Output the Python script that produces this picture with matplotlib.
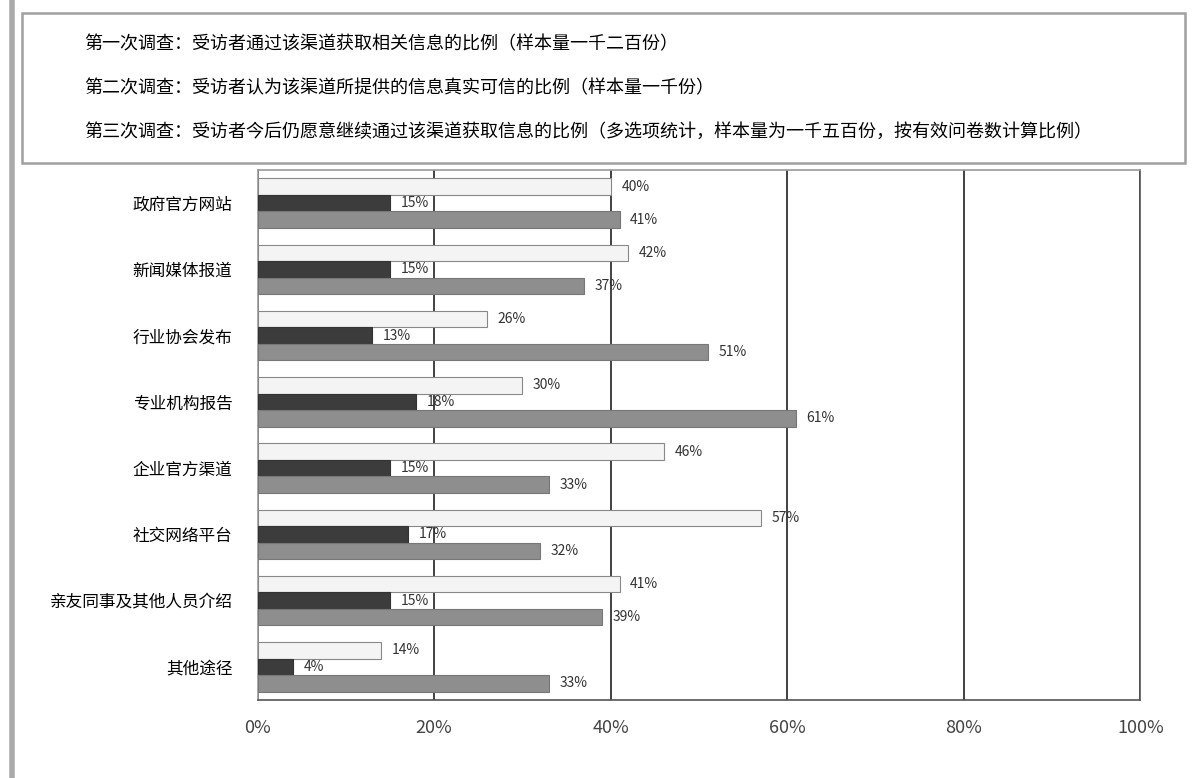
import numpy as np
import matplotlib
matplotlib.use('Agg')
import matplotlib.pyplot as plt
from matplotlib.lines import Line2D

plt.rcParams['font.family'] = ['Noto Sans CJK SC', 'DejaVu Sans']

# data (percent), groups listed top to bottom
categories = ['政府官方网站', '新闻媒体报道', '行业协会发布', '专业机构报告',
              '企业官方渠道', '社交网络平台', '亲友同事及其他人员介绍', '其他途径']
series_names = ['第一次调查：受访者通过该渠道获取相关信息的比例（样本量一千二百份）',
                '第二次调查：受访者认为该渠道所提供的信息真实可信的比例（样本量一千份）',
                '第三次调查：受访者今后仍愿意继续通过该渠道获取信息的比例（多选项统计，样本量为一千五百份，按有效问卷数计算比例）']
top_vals = [40, 42, 26, 30, 46, 57, 41, 14]
mid_vals = [15, 15, 13, 18, 15, 17, 15, 4]
bot_vals = [41, 37, 51, 61, 33, 32, 39, 33]
xticks = [0, 20, 40, 60, 80, 100]

colors = ['#f4f4f4', '#3c3c3c', '#8e8e8e']
edges = ['#888888', '#333333', '#777777']

fig = plt.figure(figsize=(11.98, 7.78), dpi=100)
ax = fig.add_axes([0.215, 0.1003, 0.737, 0.6812])

n = len(categories)
y = np.arange(n)
h = 0.25
allvals = [top_vals, mid_vals, bot_vals]
for k, vals in enumerate(allvals):
    pos = y + (k - 1) * h
    ax.barh(pos, vals, height=h, color=colors[k], edgecolor=edges[k], linewidth=0.8, zorder=3)
    for p, v in zip(pos, vals):
        ax.text(v + 1.2, p, f'{v}%', va='center', ha='left', fontsize=10, color='#333333', zorder=4)

ax.set_xlim(0, 100)
ax.set_ylim(n - 0.5, -0.5)
ax.set_yticks(y)
ax.set_yticklabels(categories, fontsize=12)
ax.set_xticks(xticks)
ax.set_xticklabels([f'{t}%' for t in xticks], fontsize=13, color='#444444')
ax.tick_params(axis='both', length=0, pad=18)
ax.tick_params(axis='x', pad=14)
ax.xaxis.grid(True, color='#333333', linewidth=1.3, zorder=1)
for s in ax.spines.values():
    s.set_color('#999999')
    s.set_linewidth(1.2)
ax.spines['bottom'].set_color('#555555')
ax.spines['right'].set_color('#555555')

handles = [Line2D([], [], color='none') for _ in series_names]
leg = fig.legend(handles, series_names, loc='upper left',
                 bbox_to_anchor=(0.014, 0.805, 0.98, 0.185), mode='expand',
                 ncol=1, fontsize=13, frameon=True, fancybox=False,
                 handlelength=0, handletextpad=0, borderpad=1.2, labelspacing=1.45,
                 borderaxespad=0.3)
leg.get_frame().set_edgecolor('#888888')
leg.get_frame().set_linewidth(1.8)
for t in leg.get_texts():
    t.set_position((40, 0))

fig.add_artist(Line2D([0.01, 0.01], [0, 1], transform=fig.transFigure, color='#aaaaaa', linewidth=4))

fig.savefig('out.png', dpi=100)
